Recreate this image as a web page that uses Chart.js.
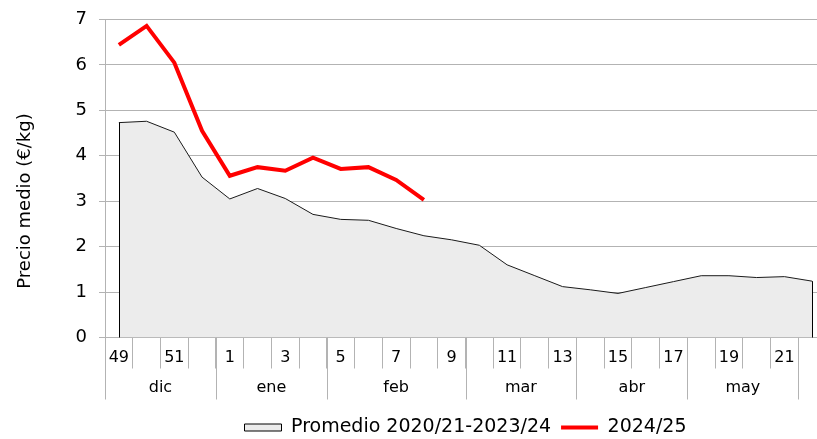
<!DOCTYPE html>
<html>
<head>
<meta charset="utf-8">
<script src="https://cdn.jsdelivr.net/npm/chart.js@4.4.1/dist/chart.umd.min.js"></script>
<style>
  html, body { margin: 0; padding: 0; background: #fff; overflow: hidden; }
  #chart { display: block; }
</style>
</head>
<body>
<canvas id="chart" width="832" height="439"></canvas>
<script>
// Weeks of the campaign (x axis)
const weeks = [49, 50, 51, 52, 1, 2, 3, 4, 5, 6, 7, 8, 9, 10, 11, 12, 13, 14, 15, 16, 17, 18, 19, 20, 21, 22];
// Month groups under the week labels
const months = ['dic', 'ene', 'feb', 'mar', 'abr', 'may'];
const monthSpans = [4, 4, 5, 4, 4, 4];

const promedio = [4.73, 4.76, 4.52, 3.53, 3.05, 3.28, 3.06, 2.71, 2.60, 2.58, 2.40, 2.24, 2.15,
  2.03, 1.60, 1.36, 1.12, 1.05, 0.97, 1.10, 1.23, 1.36, 1.36, 1.32, 1.34, 1.24];
const campaign = [6.44, 6.86, 6.05, 4.55, 3.56, 3.75, 3.67, 3.96, 3.71, 3.75, 3.47, 3.03];

const yTicks = [0, 1, 2, 3, 4, 5, 6, 7];
const yTitle = 'Precio medio (€/kg)';

const FONT = '"DejaVu Sans", sans-serif';
const GRID = '#b3b3b3';

// month row, area edges and y title
const extras = {
  id: 'extras',
  afterDatasetsDraw(chart) {
    const ctx = chart.ctx;
    const meta = chart.getDatasetMeta(1);
    const pts = meta.data;
    const y0 = chart.scales.y.getPixelForValue(0);
    ctx.save();
    ctx.strokeStyle = '#000';
    ctx.lineWidth = 1;
    ctx.beginPath();
    ctx.moveTo(Math.round(pts[0].x) + 0.5, pts[0].y);
    ctx.lineTo(Math.round(pts[0].x) + 0.5, y0);
    const last = pts[pts.length - 1];
    ctx.moveTo(Math.round(last.x) + 0.5, last.y);
    ctx.lineTo(Math.round(last.x) + 0.5, y0);
    ctx.stroke();
    ctx.restore();
  },
  afterDraw(chart) {
    const ctx = chart.ctx;
    const x = chart.scales.x;
    const half = (x.getPixelForValue(1) - x.getPixelForValue(0)) / 2;
    ctx.save();
    ctx.strokeStyle = GRID;
    ctx.lineWidth = 1;
    ctx.fillStyle = '#000';
    ctx.font = '16px ' + FONT;
    ctx.textAlign = 'center';
    ctx.textBaseline = 'middle';
    let idx = 0;
    let end = 0;
    months.forEach((m, k) => {
      const start = x.getPixelForValue(idx) - half;
      end = x.getPixelForValue(idx + monthSpans[k] - 1) + half;
      ctx.beginPath();
      ctx.moveTo(Math.round(start) + 0.5, x.top);
      ctx.lineTo(Math.round(start) + 0.5, x.top + 62);
      ctx.stroke();
      ctx.fillText(m, (start + end) / 2, 388);
      idx += monthSpans[k];
    });
    ctx.beginPath();
    ctx.moveTo(Math.round(end) + 0.5, x.top);
    ctx.lineTo(Math.round(end) + 0.5, x.top + 62);
    ctx.stroke();

    // y axis title
    ctx.translate(25, 201);
    ctx.rotate(-Math.PI / 2);
    ctx.font = '18px ' + FONT;
    ctx.fillText(yTitle, 0, 0);
    ctx.restore();
  }
};

new Chart(document.getElementById('chart'), {
  type: 'line',
  data: {
    labels: weeks.map(String),
    datasets: [{
      label: '2024/25',
      data: campaign,
      borderColor: '#ff0000',
      backgroundColor: '#ff0000',
      borderWidth: 4,
      pointRadius: 0,
      tension: 0,
      fill: false,
      order: 1
    }, {
      label: 'Promedio 2020/21-2023/24',
      data: promedio,
      borderColor: '#1a1a1a',
      backgroundColor: '#ececec',
      borderWidth: 1,
      pointRadius: 0,
      tension: 0,
      fill: 'origin',
      order: 2
    }]
  },
  options: {
    responsive: false,
    animation: false,
    layout: { padding: { top: 19.5, right: 6, left: 0, bottom: -8 } },
    scales: {
      x: {
        offset: true,
        grid: {
          display: true,
          drawOnChartArea: false,
          drawTicks: true,
          tickLength: 31,
          offset: true,
          color: GRID
        },
        border: { display: true, color: GRID },
        ticks: {
          autoSkip: false,
          maxRotation: 0,
          padding: -20,
          color: '#000',
          font: { family: FONT, size: 16 },
          callback: (v, i) => (weeks[i] % 2 ? String(weeks[i]) : '')
        },
        afterFit: (s) => { s.height = 70.5; }
      },
      y: {
        min: yTicks[0],
        max: yTicks[yTicks.length - 1],
        grid: { color: GRID, tickLength: 6 },
        border: { display: true, color: GRID },
        ticks: {
          stepSize: 1,
          padding: 12,
          color: '#000',
          font: { family: FONT, size: 18 }
        },
        afterFit: (s) => {
          s.width = 105;
          s.paddingTop = 0;
          s.paddingBottom = 0;
        }
      }
    },
    plugins: {
      tooltip: { enabled: false },
      legend: {
        position: 'bottom',
        fullSize: false,
        labels: {
          usePointStyle: true,
          pointStyleWidth: 37,
          boxHeight: 7,
          padding: 10,
          color: '#000',
          font: { family: FONT, size: 19 },
          generateLabels: (chart) => {
            const ds = chart.data.datasets;
            return [
              { text: ds[1].label, fillStyle: '#ececec', strokeStyle: '#000', lineWidth: 1, pointStyle: 'rect', datasetIndex: 1 },
              { text: ds[0].label, fillStyle: '#ff0000', strokeStyle: '#ff0000', lineWidth: 4, pointStyle: 'line', datasetIndex: 0 }
            ];
          }
        }
      }
    }
  },
  plugins: [extras]
});
</script>
</body>
</html>
